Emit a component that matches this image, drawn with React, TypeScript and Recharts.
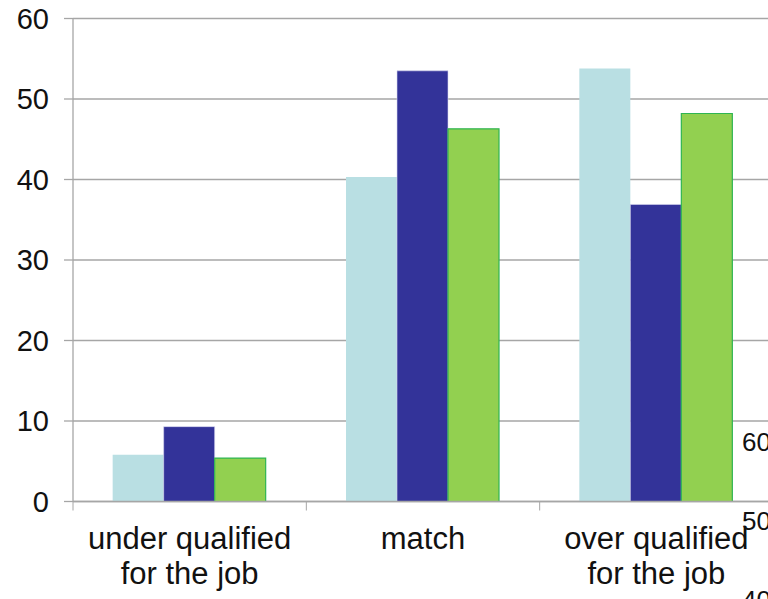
import React from "react";
import { BarChart, Bar, XAxis, YAxis, CartesianGrid } from "recharts";

// category labels, one entry per line
const categories: string[][] = [
  ["under qualified", "for the job"],
  ["match"],
  ["over qualified", "for the job"],
];

const lightSeries = [5.8, 40.3, 53.8];
const darkSeries = [9.3, 53.5, 36.9];
const greenSeries = [5.4, 46.3, 48.2];

const yTicks = [0, 10, 20, 30, 40, 50, 60];

// labels of the neighbouring chart peeking in on the right
const sideLabels = ["60", "50", "40"];

const data = categories.map((lines, i) => ({
  name: lines.join("\n"),
  light: lightSeries[i],
  dark: darkSeries[i],
  green: greenSeries[i],
}));

const FONT = "'Liberation Sans', Arial, sans-serif";
const AXIS = "#a6a6a6";
const BAND = 700 / categories.length;

function CategoryTick(props: any) {
  const { x, y, payload } = props;
  const lines = String(payload.value).split("\n");
  const axisY = y - 8;
  return (
    <g>
      <line x1={x - BAND / 2} x2={x - BAND / 2} y1={axisY} y2={axisY + 9} stroke={AXIS} strokeWidth={1} />
      <text x={x} y={axisY + 47} textAnchor="middle" fontSize={31} fontFamily={FONT} fill="#111">
        {lines.map((line, i) => (
          <tspan key={i} x={x} dy={i === 0 ? 0 : 35}>
            {line}
          </tspan>
        ))}
      </text>
    </g>
  );
}

export default function App() {
  return (
    <div style={{ position: "absolute", left: 0, top: 0, width: 768, height: 599, overflow: "hidden", background: "#fff" }}>
      <BarChart
        width={773}
        height={599}
        data={data}
        margin={{ top: 18.5, right: 0, left: 8, bottom: 7.5 }}
        barCategoryGap="17%"
        barGap={0}
      >
        <CartesianGrid vertical={false} stroke={AXIS} strokeWidth={1.3} />
        <XAxis
          dataKey="name"
          height={90}
          interval={0}
          axisLine={{ stroke: AXIS, strokeWidth: 1.3 }}
          tickLine={false}
          tickSize={0}
          tickMargin={8}
          tick={<CategoryTick />}
        />
        <YAxis
          width={65}
          domain={[0, 60]}
          ticks={yTicks}
          interval={0}
          axisLine={{ stroke: AXIS, strokeWidth: 1.3 }}
          tickLine={{ stroke: AXIS, strokeWidth: 1.3 }}
          tickSize={9}
          tickMargin={15}
          tick={{ fontSize: 29, fontFamily: FONT, fill: "#111" }}
        />
        <Bar dataKey="light" fill="#b9dfe3" isAnimationActive={false} />
        <Bar dataKey="dark" fill="#333399" stroke="#d8d8f0" strokeWidth={0.6} isAnimationActive={false} />
        <Bar dataKey="green" fill="#92d050" stroke="#2fb552" strokeWidth={1.2} isAnimationActive={false} />
      </BarChart>
      {sideLabels.map((label, i) => (
        <div
          key={label}
          style={{
            position: "absolute",
            left: 742,
            top: 427 + i * 79,
            fontFamily: FONT,
            fontSize: 26,
            lineHeight: "30px",
            color: "#111",
          }}
        >
          {label}
        </div>
      ))}
    </div>
  );
}
